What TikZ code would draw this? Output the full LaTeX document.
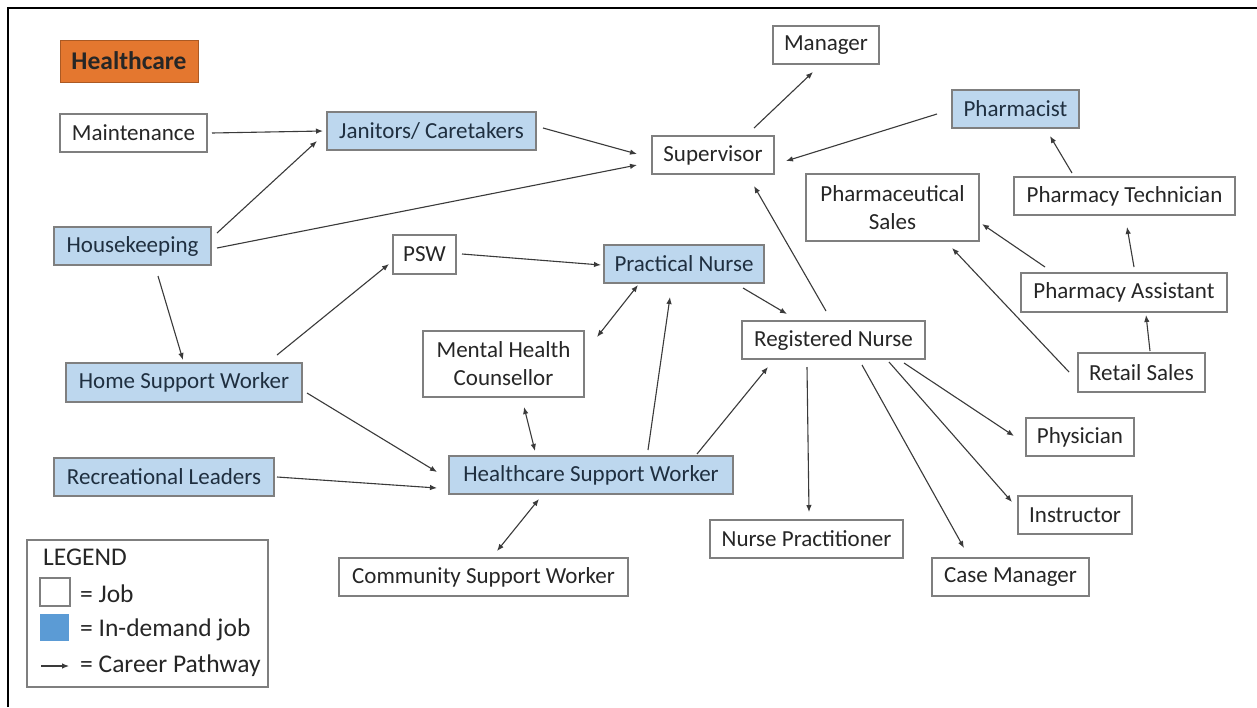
\documentclass[tikz,border=0pt]{standalone}
\usepackage{fontspec}
\setmainfont{Carlito}
\usetikzlibrary{arrows.meta}
\definecolor{boxline}{HTML}{7F7F7F}
\definecolor{demand}{HTML}{BDD7EE}
\definecolor{legblue}{HTML}{5B9BD5}
\definecolor{hcorange}{HTML}{E4772F}
\definecolor{txt}{HTML}{262626}
\definecolor{hottxt}{HTML}{1F2F40}
\definecolor{arrline}{HTML}{3A3A3A}
\tikzset{
  job/.style={draw=boxline, line width=1.3pt, fill=white, text=txt, inner sep=0pt, align=center,
    font=\fontsize{23}{28}\selectfont},
  hot/.style={job, fill=demand, text=hottxt},
  arr/.style={draw=arrline, line width=1.1pt, -{Latex[length=7pt,width=5.5pt]}},
  darr/.style={draw=arrline, line width=1.1pt, {Latex[length=7pt,width=5.5pt]}-{Latex[length=7pt,width=5.5pt]}},
  legtext/.style={anchor=west, inner sep=0pt, text=txt, font=\fontsize{25.5}{28}\selectfont},
}
\begin{document}
\begin{tikzpicture}[x=1pt, y=-1pt]
\useasboundingbox (0,0) rectangle (1257,707);
\fill[white] (0,0) rectangle (1257,707);
\draw[line width=2.5pt, black] (8,707) -- (8,8) -- (1257,8);

% title
\node[draw=hcorange!75!black, line width=1pt, fill=hcorange, inner sep=0pt, minimum width=138pt, minimum height=42pt,
  font=\fontsize{25.5}{28}\selectfont\bfseries, text=black!85] (hc) at (129,61) {Healthcare};

% nodes
\node[job, minimum width=147pt, minimum height=38pt] (maint) at (133.5,133) {Maintenance};
\node[hot, minimum width=209pt, minimum height=38pt] (jan) at (431.5,131) {Janitors/ Caretakers};
\node[hot, minimum width=157pt, minimum height=38pt] (hk) at (132.5,246) {Housekeeping};
\node[job, minimum width=122pt, minimum height=38pt] (sup) at (713,155) {Supervisor};
\node[job, minimum width=106pt, minimum height=38pt] (mgr) at (826,45) {Manager};
\node[hot, minimum width=127pt, minimum height=38pt] (pharm) at (1015.5,109) {Pharmacist};
\node[job, minimum width=173pt, minimum height=67pt] (psales) at (892.5,207.5) {Pharmaceutical\\Sales};
\node[job, minimum width=221pt, minimum height=38pt] (ptech) at (1124.5,196) {Pharmacy Technician};
\node[job, minimum width=206pt, minimum height=39pt] (passt) at (1124,292.5) {Pharmacy Assistant};
\node[job, minimum width=127pt, minimum height=39pt] (retail) at (1141.5,372.5) {Retail Sales};
\node[job, minimum width=108pt, minimum height=38pt] (phys) at (1080,437) {Physician};
\node[job, minimum width=114pt, minimum height=38pt] (instr) at (1075,515) {Instructor};
\node[job, minimum width=157pt, minimum height=38pt] (case) at (1010.5,577) {Case Manager};
\node[job, minimum width=193pt, minimum height=38pt] (np) at (806.5,539) {Nurse Practitioner};
\node[job, minimum width=183pt, minimum height=38pt] (rn) at (833.5,340) {Registered Nurse};
\node[hot, minimum width=160pt, minimum height=38pt] (pn) at (684,264) {Practical Nurse};
\node[job, minimum width=63pt, minimum height=39pt] (psw) at (424.5,254.5) {PSW};
\node[job, minimum width=161pt, minimum height=66pt] (mhc) at (503.5,364) {Mental Health\\Counsellor};
\node[hot, minimum width=284pt, minimum height=38pt] (hsw) at (591,475) {Healthcare Support Worker};
\node[job, minimum width=289pt, minimum height=38pt] (csw) at (483.5,577) {Community Support Worker};
\node[hot, minimum width=236pt, minimum height=39pt] (home) at (184,382.5) {Home Support Worker};
\node[hot, minimum width=220pt, minimum height=38pt] (rec) at (164,477) {Recreational Leaders};

% connectors
\draw[arr] ([shift={(78.5,0)}]maint.center) -- ([shift={(-108.5,0)}]jan.center);
\draw[arr] ([shift={(84.5,-13)}]hk.center) -- ([shift={(-114.5,10)}]jan.center);
\draw[arr] ([shift={(84.5,2)}]hk.center) -- ([shift={(-76,10)}]sup.center);
\draw[arr] ([shift={(111.5,-3)}]jan.center) -- ([shift={(-76,-1)}]sup.center);
\draw[arr] ([shift={(41,-27)}]sup.center) -- ([shift={(-13,27)}]mgr.center);
\draw[arr] ([shift={(-78.5,5)}]pharm.center) -- ([shift={(73,6)}]sup.center);
\draw[arr] ([shift={(-7.5,-29)}]rn.center) -- ([shift={(41,31)}]sup.center);
\draw[arr] ([shift={(-52.5,-23)}]ptech.center) -- ([shift={(34.5,27)}]pharm.center);
\draw[arr] ([shift={(10,-25.5)}]passt.center) -- ([shift={(2.5,31)}]ptech.center);
\draw[arr] ([shift={(-79,-25.5)}]passt.center) -- ([shift={(89.5,16.5)}]psales.center);
\draw[arr] ([shift={(-72.5,-0.5)}]retail.center) -- ([shift={(59.5,40.5)}]psales.center);
\draw[arr] ([shift={(8.5,-21.5)}]retail.center) -- ([shift={(22,22.5)}]passt.center);
\draw[arr] ([shift={(25.5,30)}]hk.center) -- ([shift={(-1,-22.5)}]home.center);
\draw[arr] ([shift={(93,-27.5)}]home.center) -- ([shift={(-35.5,9.5)}]psw.center);
\draw[arr] ([shift={(37.5,-0.5)}]psw.center) -- ([shift={(-83,1)}]pn.center);
\draw[arr] ([shift={(123,10.5)}]home.center) -- ([shift={(-154,-3)}]hsw.center);
\draw[arr] ([shift={(113,0)}]rec.center) -- ([shift={(-154,13)}]hsw.center);
\draw[darr] ([shift={(93.5,-27)}]mhc.center) -- ([shift={(-46,21)}]pn.center);
\draw[darr] ([shift={(20.5,43)}]mhc.center) -- ([shift={(-56,-24)}]hsw.center);
\draw[arr] ([shift={(57,-25)}]hsw.center) -- ([shift={(-14,33)}]pn.center);
\draw[arr] ([shift={(106,-21)}]hsw.center) -- ([shift={(-65.5,27)}]rn.center);
\draw[darr] ([shift={(-52,24)}]hsw.center) -- ([shift={(13.5,-26)}]csw.center);
\draw[arr] ([shift={(59,24)}]pn.center) -- ([shift={(-46.5,-26)}]rn.center);
\draw[arr] ([shift={(-26.5,27)}]rn.center) -- ([shift={(2.5,-27)}]np.center);
\draw[arr] ([shift={(28.5,25)}]rn.center) -- ([shift={(-46.5,-29)}]case.center);
\draw[arr] ([shift={(55.5,22)}]rn.center) -- ([shift={(-63,-13)}]instr.center);
\draw[arr] ([shift={(70.5,23)}]rn.center) -- ([shift={(-66,-1)}]phys.center);

% legend
\node[draw=boxline, line width=1.3pt, fill=white, minimum width=241pt, minimum height=147pt, inner sep=0pt] (legend) at (147.5,613.5) {};
\node[legtext] (legtitle) at (43,557) {LEGEND};
\node[draw=boxline, line width=1.3pt, fill=white, minimum width=30pt, minimum height=28pt, inner sep=0pt] (legjob) at (55,592) {};
\node[legtext] (legjobt) at (80,594) {= Job};
\node[fill=legblue, minimum width=29pt, minimum height=27pt, inner sep=0pt] (leghot) at (54,627.5) {};
\node[legtext] (leghott) at (80,630) {= In-demand job};
\coordinate (legA) at (41,666);
\coordinate (legB) at (69,666);
\draw[arr] (legA) -- (legB);
\node[legtext] (legarrt) at (80,666) {= Career Pathway};
\end{tikzpicture}
\end{document}
